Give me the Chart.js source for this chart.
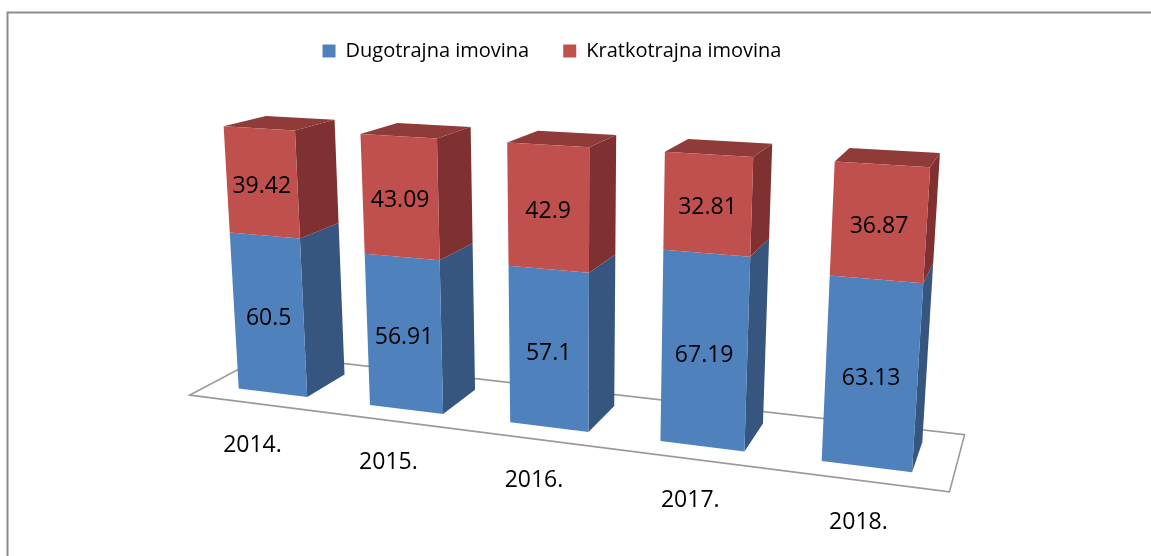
<!DOCTYPE html>
<html lang="hr">
<head>
<meta charset="UTF-8">
<title>Dugotrajna i kratkotrajna imovina</title>
<script src="https://cdn.jsdelivr.net/npm/chart.js"></script>
<style>
  body { margin: 0; background: #fff; }
  #wrap { width: 1151px; height: 556px; }
</style>
</head>
<body>
<div id="wrap"><canvas id="chart" width="1151" height="556"></canvas></div>
<script>
// podaci (udio u ukupnoj imovini, %)
const years = ['2014.', '2015.', '2016.', '2017.', '2018.'];
const dugotrajna = [60.5, 56.91, 57.1, 67.19, 63.13];
const kratkotrajna = [39.42, 43.09, 42.9, 32.81, 36.87];

// boje stupaca: prednja, bočna i gornja strana
const blue = { front: '#4F81BD', side: '#36557F', top: '#3F6797' };
const red = { front: '#C0504D', side: '#7E3130', top: '#8F3B39' };

// 3D pogled kao u Excelu: (u, v, w) -> piksel
// u = 0..1 po širini plota, v = 0..1 po visini, w = dubina (1 = dubina stupca)
const cam = [
  [592.4068, -24.59267, 52.94298, 209.0887],
  [16.39840, -265.9528, -4.153797, 384.9338],
  [-0.1592344, -0.04297067, 0.04800761, 1]
];
const floorFront = -0.44, floorBack = 1.43;

function project(u, v, w) {
  const d = cam[2][0] * u + cam[2][1] * v + cam[2][2] * w + cam[2][3];
  return [
    (cam[0][0] * u + cam[0][1] * v + cam[0][2] * w + cam[0][3]) / d,
    (cam[1][0] * u + cam[1][1] * v + cam[1][2] * w + cam[1][3]) / d
  ];
}

function face(ctx, pts, fill) {
  ctx.beginPath();
  pts.forEach((p, i) => {
    const [x, y] = project(p[0], p[1], p[2]);
    if (i === 0) ctx.moveTo(x, y); else ctx.lineTo(x, y);
  });
  ctx.closePath();
  ctx.fillStyle = fill;
  ctx.fill();
}

const numFont = '23px "Open Sans"';
function centerText(ctx, text, x, y) {
  // vertikalno centriranje po visini znamenki
  ctx.textBaseline = 'alphabetic';
  ctx.textAlign = 'center';
  ctx.fillText(text, x, y + 23 * 0.714 / 2);
}

const bars3d = {
  id: 'bars3d',
  beforeDraw(chart) {
    const ctx = chart.ctx;
    ctx.save();
    ctx.strokeStyle = '#8c8c8c';
    ctx.lineWidth = 2;
    ctx.strokeRect(7.5, 12.5, 1300, 700);
    ctx.restore();
  },
  beforeDatasetsDraw(chart) {
    const ctx = chart.ctx, a = chart.chartArea;
    const toU = px => (px - a.left) / (a.right - a.left);
    const toV = py => (a.bottom - py) / (a.bottom - a.top);
    const metas = chart.data.datasets.map((d, k) => chart.getDatasetMeta(k));
    ctx.save();

    // pod
    ctx.beginPath();
    [[0, floorFront], [1, floorFront], [1, floorBack], [0, floorBack]].forEach((p, i) => {
      const [x, y] = project(p[0], 0, p[1]);
      if (i === 0) ctx.moveTo(x, y); else ctx.lineTo(x, y);
    });
    ctx.closePath();
    ctx.strokeStyle = '#9a9a9a';
    ctx.lineWidth = 1.6;
    ctx.stroke();

    // stupci
    ctx.font = numFont;
    ctx.fillStyle = '#000';
    chart.data.labels.forEach((lab, i) => {
      metas.forEach((meta, k) => {
        const el = meta.data[i];
        const ds = chart.data.datasets[k];
        const u0 = toU(el.x - el.width / 2), u1 = toU(el.x + el.width / 2);
        const v0 = toV(el.base), v1 = toV(el.y);
        face(ctx, [[u1, v0, 0], [u1, v1, 0], [u1, v1, 1], [u1, v0, 1]], ds.faces.side);
        if (k === metas.length - 1) {
          face(ctx, [[u0, v1, 0], [u1, v1, 0], [u1, v1, 1], [u0, v1, 1]], ds.faces.top);
        }
        face(ctx, [[u0, v0, 0], [u1, v0, 0], [u1, v1, 0], [u0, v1, 0]], ds.faces.front);
        const [lx, ly] = project((u0 + u1) / 2, (v0 + v1) / 2, 0);
        ctx.fillStyle = '#000';
        centerText(ctx, String(ds.data[i]), lx, ly + 2);
      });
      // oznaka godine ispod poda
      const [x, y] = project(toU(metas[0].data[i].x), 0, floorFront);
      centerText(ctx, lab, x - 2, y + 40);
    });

    ctx.restore();
    return false;
  }
};

new Chart(document.getElementById('chart'), {
  type: 'bar',
  data: {
    labels: years,
    datasets: [
      { label: 'Dugotrajna imovina', data: dugotrajna, backgroundColor: blue.front, faces: blue },
      { label: 'Kratkotrajna imovina', data: kratkotrajna, backgroundColor: red.front, faces: red }
    ]
  },
  options: {
    responsive: false,
    animation: false,
    events: [],
    layout: { padding: { top: 7, right: 47, left: 0, bottom: 10 } },
    datasets: { bar: { categoryPercentage: 1, barPercentage: 0.53, borderWidth: 0 } },
    scales: {
      x: { display: false, stacked: true, offset: true },
      y: { display: false, stacked: true, min: 0, max: 100 }
    },
    plugins: {
      legend: {
        position: 'top',
        labels: {
          boxWidth: 13,
          boxHeight: 13,
          padding: 34,
          color: '#000',
          font: { family: 'Open Sans', size: 20 }
        }
      },
      tooltip: { enabled: false }
    }
  },
  plugins: [bars3d]
});
</script>
</body>
</html>
